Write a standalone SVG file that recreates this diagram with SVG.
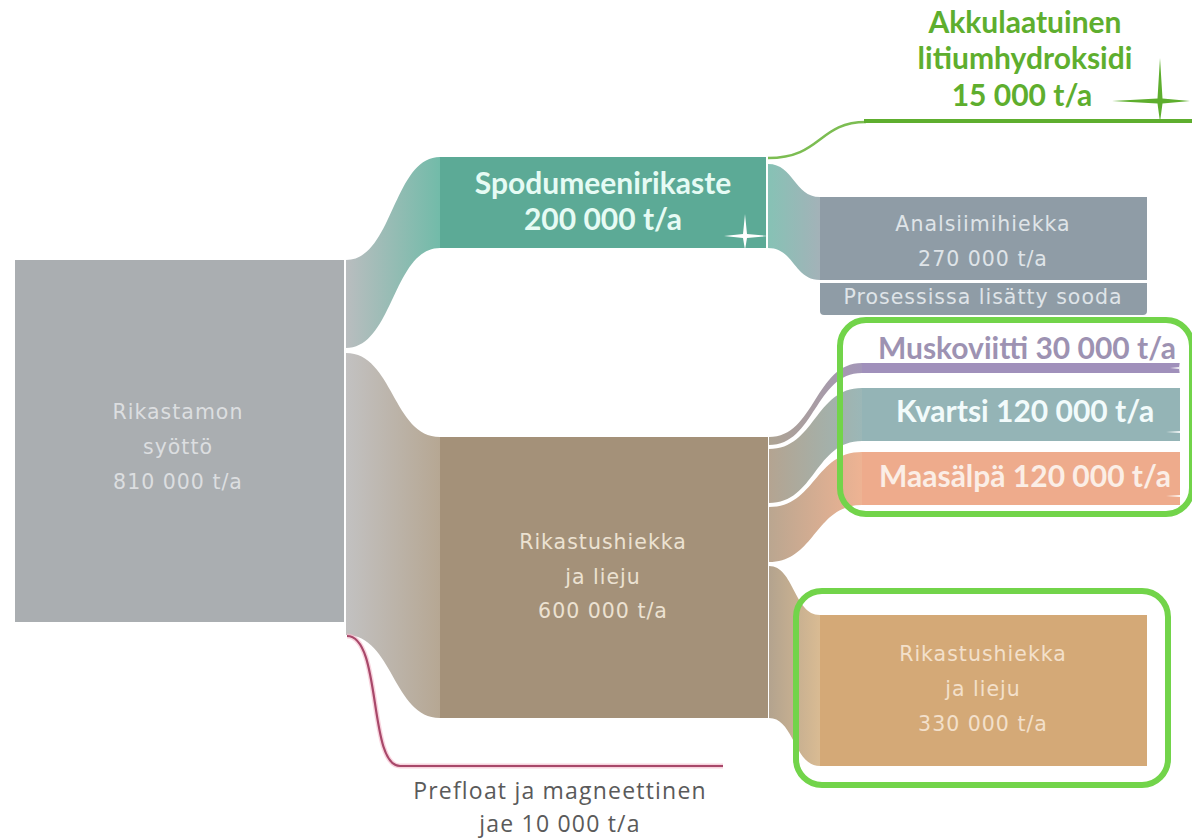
<svg xmlns="http://www.w3.org/2000/svg" width="1192" height="840" viewBox="0 0 1192 840">
<style>
.lbl{font-family:"DejaVu Sans","Liberation Sans",sans-serif;font-size:20.5px;letter-spacing:1px;text-anchor:middle}
.big{font-family:Lato,"Open Sans","Liberation Sans",sans-serif;font-weight:bold;text-anchor:middle}
.reg{font-family:"Open Sans","Liberation Sans",sans-serif;text-anchor:middle}
.hl{fill:none;stroke:#72d44a;stroke-width:6}
</style>
<defs>
<linearGradient id="gUp" x1="0" x2="1" y1="0" y2="0"><stop offset="0" stop-color="#b9bdbf"/><stop offset="1" stop-color="#72bba9"/></linearGradient>
<linearGradient id="gLow" x1="0" x2="1" y1="0" y2="0"><stop offset="0" stop-color="#c2c1c1"/><stop offset="1" stop-color="#b6a793"/></linearGradient>
<linearGradient id="gAn" x1="0" x2="1" y1="0" y2="0"><stop offset="0" stop-color="#86c2b5"/><stop offset="1" stop-color="#a3b2b8"/></linearGradient>
<linearGradient id="gMu" x1="0" x2="1" y1="0" y2="0"><stop offset="0" stop-color="#ada392"/><stop offset="1" stop-color="#a396b8"/></linearGradient>
<linearGradient id="gKv" x1="0" x2="1" y1="0" y2="0"><stop offset="0" stop-color="#b4a491"/><stop offset="1" stop-color="#9bb7b7"/></linearGradient>
<linearGradient id="gMa" x1="0" x2="1" y1="0" y2="0"><stop offset="0" stop-color="#baa690"/><stop offset="1" stop-color="#eeb393"/></linearGradient>
<linearGradient id="gRi" x1="0" x2="1" y1="0" y2="0"><stop offset="0" stop-color="#b3a38e"/><stop offset="1" stop-color="#d9bb93"/></linearGradient>
</defs>

<g id="connectors">
<path d="M346,260 C393,260 393,157 440,157 L440,248 C393,248 393,348 346,348 Z" fill="url(#gUp)"/>
<path d="M346,353 C393,353 393,437 440,437 L440,718 C393,718 393,635 346,635 Z" fill="url(#gLow)"/>
<path d="M768,164 C794,164 794,197 820,197 L820,280 C794,280 794,248 768,248 Z" fill="url(#gAn)"/>
<path d="M769,437 C815,437 815,363 862,363 L862,373 C815,373 815,445 769,445 Z" fill="url(#gMu)"/>
<path d="M769,449 C815,449 815,388 862,388 L862,441 C815,441 815,503 769,503 Z" fill="url(#gKv)"/>
<path d="M769,507 C815,507 815,452 862,452 L862,505 C815,505 815,562 769,562 Z" fill="url(#gMa)"/>
<path d="M769,566 C794,566 794,615 820,615 L820,766 C794,766 794,718 769,718 Z" fill="url(#gRi)"/>
<path d="M347,636 C382,636 368,766 400,766 L723,766" fill="none" stroke="#f4b8c8" stroke-width="5" opacity="0.6"/>
<path d="M347,636 C382,636 368,766 400,766 L723,766" fill="none" stroke="#a8486a" stroke-width="2.2"/>
<path d="M768,158 C822,158 818,122 866,122" fill="none" stroke="#7cbd52" stroke-width="2.5"/>
<path d="M864,121 L1192,121" fill="none" stroke="#5eae2e" stroke-width="4"/>
</g>

<g id="node-syotto">
<rect x="15" y="260" width="329" height="362" fill="#aaaeb1"/>
<text class="lbl" x="178" y="419" fill="#dcdee0">Rikastamon</text>
<text class="lbl" x="178" y="454" fill="#dcdee0">syöttö</text>
<text class="lbl" x="178" y="489" fill="#dcdee0">810 000 t/a</text>
</g>

<g id="node-spodumeeni">
<rect x="440" y="157" width="326" height="91" fill="#5caa96"/>
<text class="big" x="603" y="194" font-size="30" fill="#e6fbf4">Spodumeenirikaste</text>
<text class="big" x="603" y="230" font-size="30" fill="#e6fbf4">200 000 t/a</text>
<polygon points="745,214 747,234 768,236 747,238 745,250 743,238 724,236 743,234" fill="#ffffff"/>
</g>

<g id="node-litium">
<text class="big" x="1025" y="33" font-size="30" fill="#5eae2e">Akkulaatuinen</text>
<text class="big" x="1025" y="69" font-size="30" fill="#5eae2e">litiumhydroksidi</text>
<text class="big" x="1022" y="106" font-size="30" fill="#5eae2e">15 000 t/a</text>
<polygon points="1160,58 1162.5,98.5 1190,101 1162.5,103.5 1160,122 1157.5,103.5 1112,101 1157.5,98.5" fill="#5eae2e"/>
</g>

<g id="node-analsiimi">
<rect x="820" y="197" width="327" height="83" fill="#8f9ca6"/>
<path d="M820,283 H1147 V311 Q1147,315 1143,315 H824 Q820,315 820,311 Z" fill="#8f9ca6"/>
<text class="lbl" x="983" y="231" fill="#dfe4e8">Analsiimihiekka</text>
<text class="lbl" x="983" y="266" fill="#dfe4e8">270 000 t/a</text>
<text class="lbl" x="983" y="304" font-size="12.7" letter-spacing="0" fill="#dfe4e8">Prosessissa lisätty sooda</text>
</g>

<g id="node-rikastushiekka600">
<rect x="440" y="437" width="328" height="281" fill="#a49179"/>
<text class="lbl" x="603" y="549" fill="#ece2d2">Rikastushiekka</text>
<text class="lbl" x="603" y="584" fill="#ece2d2">ja lieju</text>
<text class="lbl" x="603" y="618" fill="#ece2d2">600 000 t/a</text>
</g>

<g id="node-muskoviitti">
<text class="big" x="1027" y="359" font-size="30" fill="#9d92b2">Muskoviitti 30 000 t/a</text>
<rect x="862" y="363" width="318" height="10" fill="#a090bb"/>
<polygon points="1180,361 1181,367 1188,368 1181,369 1180,376 1179,369 1170,368 1179,367" fill="#ffffff" opacity="0.85"/>
</g>

<g id="node-kvartsi">
<rect x="862" y="388" width="318" height="53" fill="#94b4b6"/>
<text class="big" x="1025" y="422" font-size="30" fill="#f2fbfb">Kvartsi 120 000 t/a</text>
<polygon points="1181,420 1182,431 1190,432 1182,433 1181,441 1180,433 1166,432 1180,431" fill="#ffffff" opacity="0.85"/>
</g>

<g id="node-maasalpa">
<rect x="862" y="452" width="318" height="53" fill="#eeab8c"/>
<text class="big" x="1025" y="487" font-size="30" fill="#fbeee6">Maasälpä 120 000 t/a</text>
<polygon points="1181,484 1182,495 1190,496 1182,497 1181,505 1180,497 1166,496 1180,495" fill="#ffffff" opacity="0.85"/>
</g>

<g id="node-rikastushiekka330">
<rect x="820" y="615" width="327" height="151" fill="#d4a977"/>
<text class="lbl" x="983" y="661" fill="#f3e0cb">Rikastushiekka</text>
<text class="lbl" x="983" y="696" fill="#f3e0cb">ja lieju</text>
<text class="lbl" x="983" y="731" fill="#f3e0cb">330 000 t/a</text>
</g>

<g id="node-prefloat">
<text class="reg" x="560" y="799" font-size="23" letter-spacing="1.2" fill="#5a5a5a">Prefloat ja magneettinen</text>
<text class="reg" x="560" y="832" font-size="23" letter-spacing="1.2" fill="#5a5a5a">jae 10 000 t/a</text>
</g>

<g id="highlights">
<rect class="hl" x="840" y="320" width="352" height="194" rx="26"/>
<rect class="hl" x="796" y="591" width="372" height="194" rx="26"/>
</g>
</svg>
